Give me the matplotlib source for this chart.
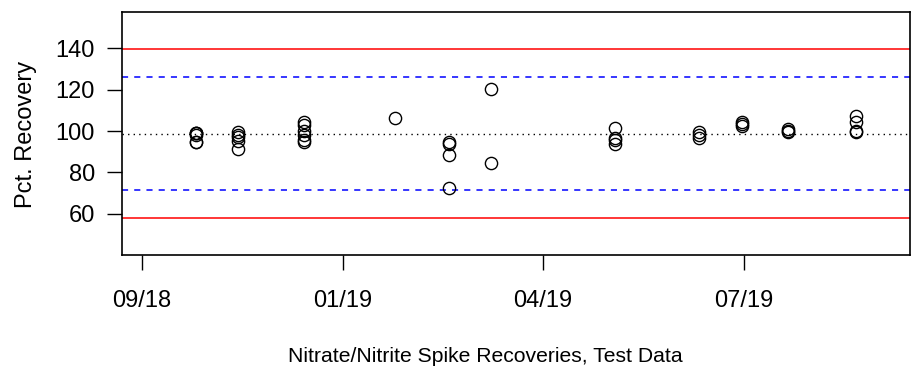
import numpy as np
import matplotlib
matplotlib.use("Agg")
import matplotlib.pyplot as plt
import matplotlib.dates as mdates

plt.rcParams['font.family'] = ['Liberation Sans', 'DejaVu Sans']

# sample dates and recoveries (one entry per point)
dates = ["2018-10-23"] * 6 + ["2018-11-13"] * 5 + ["2018-12-16"] * 6 + ["2019-01-30"] \
    + ["2019-02-26"] * 4 + ["2019-03-19"] * 2 + ["2019-05-20"] * 4 + ["2019-07-01"] * 3 \
    + ["2019-07-22"] * 3 + ["2019-08-14"] * 3 + ["2019-09-17"] * 4
recovery = [99, 98, 99, 99, 94.5, 94.5,
            99.5, 98, 97, 95, 91.5,
            104.5, 103, 100, 98, 95.5, 94.5,
            106.5,
            94.5, 93.5, 88.5, 72.5,
            120.5, 84.5,
            101.5, 96.5, 95.5, 93.5,
            99.5, 98, 96.5,
            104.5, 103.5, 102.5,
            101, 100, 99.5,
            107.5, 104.5, 100, 99.5]

# control limits
center = 98.8
warn_lo, warn_hi = 71.6, 126.0
ctrl_lo, ctrl_hi = 58.0, 139.6

tick_dates = ["2018-09-26", "2019-01-04", "2019-04-14", "2019-07-23"]
x_range = ["2018-09-16", "2019-10-14"]
y_range = (44.4, 153.2)

x = np.array(dates, dtype="datetime64[D]")

fig = plt.figure(figsize=(9.11, 3.72), dpi=100)
ax = fig.add_axes([122 / 911, 1 - 255 / 372, (910 - 122) / 911, (255 - 12) / 372])

ax.axhline(ctrl_hi, color="red", lw=1.1)
ax.axhline(ctrl_lo, color="red", lw=1.1)
ax.axhline(warn_hi, color="blue", lw=1.1, ls=(0, (4, 4)))
ax.axhline(warn_lo, color="blue", lw=1.1, ls=(0, (4, 4)))
ax.axhline(center, color="black", lw=1.0, ls=(0, (1, 3)))

ax.plot(x, recovery, "o", mfc="none", mec="black", ms=8.8, mew=1.0)

# R-style expanded limits
xr = np.array(x_range, dtype="datetime64[D]")
ax.set_xlim(xr[0], xr[1])
ylo = y_range[0] - 0.04 * (y_range[1] - y_range[0])
yhi = y_range[1] + 0.04 * (y_range[1] - y_range[0])
ax.set_ylim(ylo, yhi)

ax.set_xticks(np.array(tick_dates, dtype="datetime64[D]"))
ax.xaxis.set_major_formatter(mdates.DateFormatter("%m/%y"))
ax.set_yticks([60, 80, 100, 120, 140])

ax.tick_params(axis="both", length=10.5, width=1.0, labelsize=17)
ax.tick_params(axis="x", pad=15)
ax.tick_params(axis="y", pad=9)
for s in ax.spines.values():
    s.set_linewidth(1.2)

fig.text(26 / 911, 1 - 134 / 372, "Pct. Recovery", fontsize=17, rotation=90,
         ha="center", va="center")
fig.text(485 / 911, 1 - 357 / 372, "Nitrate/Nitrite Spike Recoveries, Test Data",
         fontsize=15.2, ha="center", va="center")

fig.savefig("out.png", dpi=100)
